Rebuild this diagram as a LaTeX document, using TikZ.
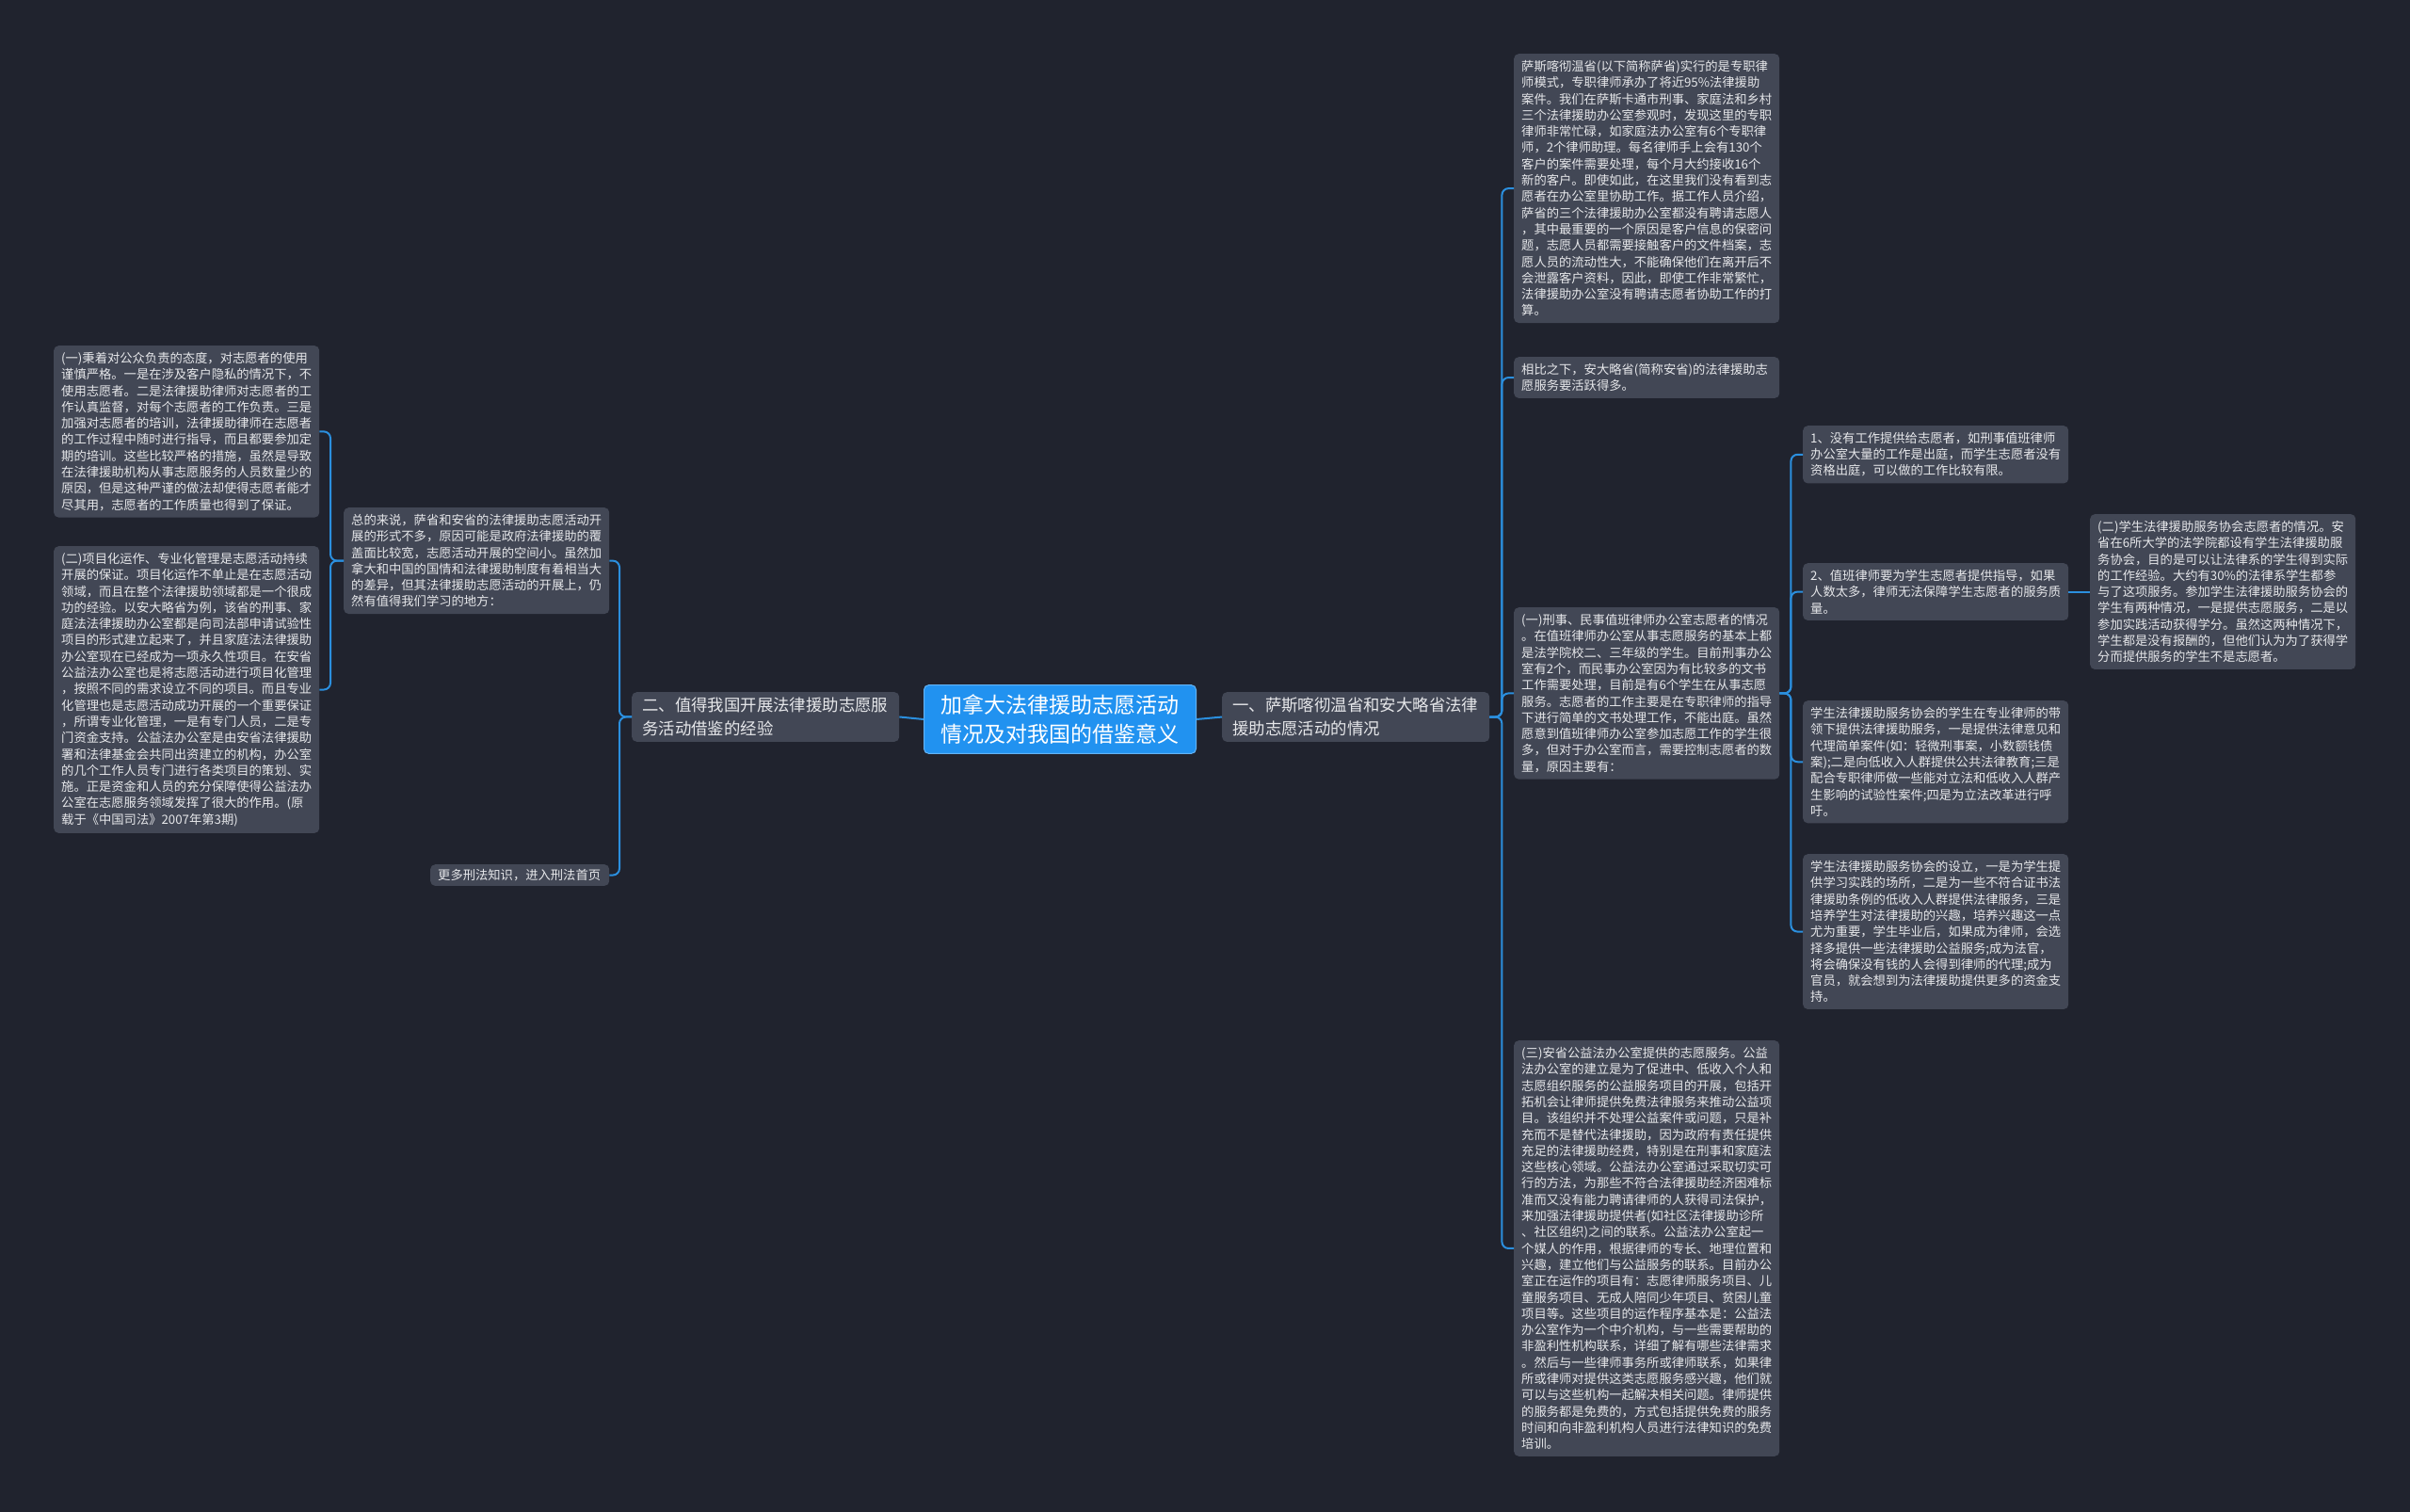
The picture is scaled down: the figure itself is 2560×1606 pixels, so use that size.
\documentclass[tikz,border=0pt]{standalone}
\usepackage{fontspec}
\setmainfont{Noto Sans CJK SC}
\usepackage{xcolor}
\definecolor{bgc}{HTML}{20232E}
\definecolor{boxc}{HTML}{424755}
\definecolor{linec}{HTML}{2B8FDE}
\definecolor{rootc}{HTML}{2192F0}
\definecolor{txtc}{HTML}{E6E7EA}

\begin{document}
\begin{tikzpicture}[x=1pt,y=-1pt]
    \tikzstyle{leafbox} = [fill=boxc,rounded corners=5pt,text=txtc,anchor=north west,align=left,
      text width=266pt,inner xsep=8pt,inner ysep=7pt,font=\fontsize{13.3}{17.3}\selectfont]
    \tikzstyle{topicbox} = [leafbox,text width=262pt,inner xsep=11pt,inner ysep=6pt,
      font=\fontsize{17.4}{24.5}\selectfont]
    \tikzstyle{rootbox} = [fill=rootc,draw=rootc!70!white,line width=1pt,rounded corners=5pt,
      text=white,align=left,inner xsep=18pt,inner ysep=10pt,font=\fontsize{23}{31}\selectfont]
    \tikzstyle{conn} = [draw=linec,line width=2pt,rounded corners=7pt]
    \fill[bgc] (0,0) rectangle (2560,1606);
    %%
    \node [rootbox] (root) at (1126,764) {加拿大法律援助志愿活动\\情况及对我国的借鉴意义};
    \node [topicbox] (r) at (1298,735) {一、萨斯喀彻温省和安大略省法律\\援助志愿活动的情况};
    \node [topicbox] (l) at (671,735) {二、值得我国开展法律援助志愿服\\务活动借鉴的经验};
    %%
    \node [leafbox] (ra) at (1608,57) {萨斯喀彻温省(以下简称萨省)实行的是专职律\\
师模式，专职律师承办了将近95\%法律援助\\
案件。我们在萨斯卡通市刑事、家庭法和乡村\\
三个法律援助办公室参观时，发现这里的专职\\
律师非常忙碌，如家庭法办公室有6个专职律\\
师，2个律师助理。每名律师手上会有130个\\
客户的案件需要处理，每个月大约接收16个\\
新的客户。即使如此，在这里我们没有看到志\\
愿者在办公室里协助工作。据工作人员介绍，\\
萨省的三个法律援助办公室都没有聘请志愿人\\
，其中最重要的一个原因是客户信息的保密问\\
题，志愿人员都需要接触客户的文件档案，志\\
愿人员的流动性大，不能确保他们在离开后不\\
会泄露客户资料，因此，即使工作非常繁忙，\\
法律援助办公室没有聘请志愿者协助工作的打\\
算。};
    \node [leafbox] (rb) at (1608,379) {相比之下，安大略省(简称安省)的法律援助志\\
愿服务要活跃得多。};
    \node [leafbox] (rc) at (1608,645) {(一)刑事、民事值班律师办公室志愿者的情况\\
。在值班律师办公室从事志愿服务的基本上都\\
是法学院校二、三年级的学生。目前刑事办公\\
室有2个，而民事办公室因为有比较多的文书\\
工作需要处理，目前是有6个学生在从事志愿\\
服务。志愿者的工作主要是在专职律师的指导\\
下进行简单的文书处理工作，不能出庭。虽然\\
愿意到值班律师办公室参加志愿工作的学生很\\
多，但对于办公室而言，需要控制志愿者的数\\
量，原因主要有：};
    \node [leafbox] (rd) at (1608,1105) {(三)安省公益法办公室提供的志愿服务。公益\\
法办公室的建立是为了促进中、低收入个人和\\
志愿组织服务的公益服务项目的开展，包括开\\
拓机会让律师提供免费法律服务来推动公益项\\
目。该组织并不处理公益案件或问题，只是补\\
充而不是替代法律援助，因为政府有责任提供\\
充足的法律援助经费，特别是在刑事和家庭法\\
这些核心领域。公益法办公室通过采取切实可\\
行的方法，为那些不符合法律援助经济困难标\\
准而又没有能力聘请律师的人获得司法保护，\\
来加强法律援助提供者(如社区法律援助诊所\\
、社区组织)之间的联系。公益法办公室起一\\
个媒人的作用，根据律师的专长、地理位置和\\
兴趣，建立他们与公益服务的联系。目前办公\\
室正在运作的项目有：志愿律师服务项目、儿\\
童服务项目、无成人陪同少年项目、贫困儿童\\
项目等。这些项目的运作程序基本是：公益法\\
办公室作为一个中介机构，与一些需要帮助的\\
非盈利性机构联系，详细了解有哪些法律需求\\
。然后与一些律师事务所或律师联系，如果律\\
所或律师对提供这类志愿服务感兴趣，他们就\\
可以与这些机构一起解决相关问题。律师提供\\
的服务都是免费的，方式包括提供免费的服务\\
时间和向非盈利机构人员进行法律知识的免费\\
培训。};
    %%
    \node [leafbox] (c1) at (1915,452) {1、没有工作提供给志愿者，如刑事值班律师\\
办公室大量的工作是出庭，而学生志愿者没有\\
资格出庭，可以做的工作比较有限。};
    \node [leafbox] (c2) at (1915,598) {2、值班律师要为学生志愿者提供指导，如果\\
人数太多，律师无法保障学生志愿者的服务质\\
量。};
    \node [leafbox] (c3) at (1915,744) {学生法律援助服务协会的学生在专业律师的带\\
领下提供法律援助服务，一是提供法律意见和\\
代理简单案件(如：轻微刑事案，小数额钱债\\
案);二是向低收入人群提供公共法律教育;三是\\
配合专职律师做一些能对立法和低收入人群产\\
生影响的试验性案件;四是为立法改革进行呼\\
吁。};
    \node [leafbox] (c4) at (1915,907) {学生法律援助服务协会的设立，一是为学生提\\
供学习实践的场所，二是为一些不符合证书法\\
律援助条例的低收入人群提供法律服务，三是\\
培养学生对法律援助的兴趣，培养兴趣这一点\\
尤为重要，学生毕业后，如果成为律师，会选\\
择多提供一些法律援助公益服务;成为法官，\\
将会确保没有钱的人会得到律师的代理;成为\\
官员，就会想到为法律援助提供更多的资金支\\
持。};
    \coordinate (ecol) at (2220,0);
    \node [leafbox,anchor=west] (e) at (ecol |- c2.west) {(二)学生法律援助服务协会志愿者的情况。安\\
省在6所大学的法学院都设有学生法律援助服\\
务协会，目的是可以让法律系的学生得到实际\\
的工作经验。大约有30\%的法律系学生都参\\
与了这项服务。参加学生法律援助服务协会的\\
学生有两种情况，一是提供志愿服务，二是以\\
参加实践活动获得学分。虽然这两种情况下，\\
学生都是没有报酬的，但他们认为为了获得学\\
分而提供服务的学生不是志愿者。};
    %%
    \node [leafbox] (la) at (365,539) {总的来说，萨省和安省的法律援助志愿活动开\\
展的形式不多，原因可能是政府法律援助的覆\\
盖面比较宽，志愿活动开展的空间小。虽然加\\
拿大和中国的国情和法律援助制度有着相当大\\
的差异，但其法律援助志愿活动的开展上，仍\\
然有值得我们学习的地方：};
    \node [leafbox,text width=174pt,inner ysep=5pt] (lb) at (457,918) {更多刑法知识，进入刑法首页};
    \node [leafbox] (h) at (57,367) {(一)秉着对公众负责的态度，对志愿者的使用\\
谨慎严格。一是在涉及客户隐私的情况下，不\\
使用志愿者。二是法律援助律师对志愿者的工\\
作认真监督，对每个志愿者的工作负责。三是\\
加强对志愿者的培训，法律援助律师在志愿者\\
的工作过程中随时进行指导，而且都要参加定\\
期的培训。这些比较严格的措施，虽然是导致\\
在法律援助机构从事志愿服务的人员数量少的\\
原因，但是这种严谨的做法却使得志愿者能才\\
尽其用，志愿者的工作质量也得到了保证。};
    \node [leafbox] (i) at (57,580) {(二)项目化运作、专业化管理是志愿活动持续\\
开展的保证。项目化运作不单止是在志愿活动\\
领域，而且在整个法律援助领域都是一个很成\\
功的经验。以安大略省为例，该省的刑事、家\\
庭法法律援助办公室都是向司法部申请试验性\\
项目的形式建立起来了，并且家庭法法律援助\\
办公室现在已经成为一项永久性项目。在安省\\
公益法办公室也是将志愿活动进行项目化管理\\
，按照不同的需求设立不同的项目。而且专业\\
化管理也是志愿活动成功开展的一个重要保证\\
，所谓专业化管理，一是有专门人员，二是专\\
门资金支持。公益法办公室是由安省法律援助\\
署和法律基金会共同出资建立的机构，办公室\\
的几个工作人员专门进行各类项目的策划、实\\
施。正是资金和人员的充分保障使得公益法办\\
公室在志愿服务领域发挥了很大的作用。(原\\
载于《中国司法》2007年第3期)};
    %%
    \path [conn] (root.east) -- (r.west);
    \path [conn] (root.west) -- (l.east);
    \path [conn] (r.east) -- ++(13,0) |- (ra.west);
    \path [conn] (r.east) -- ++(13,0) |- (rb.west);
    \path [conn] (r.east) -- ++(13,0) |- (rc.west);
    \path [conn] (r.east) -- ++(13,0) |- (rd.west);
    \path [conn] (rc.east) -- ++(12,0) |- (c1.west);
    \path [conn] (rc.east) -- ++(12,0) |- (c2.west);
    \path [conn] (rc.east) -- ++(12,0) |- (c3.west);
    \path [conn] (rc.east) -- ++(12,0) |- (c4.west);
    \path [conn] (c2.east) -- (e.west);
    \path [conn] (l.west) -- ++(-13,0) |- (la.east);
    \path [conn] (l.west) -- ++(-13,0) |- (lb.east);
    \path [conn] (la.west) -- ++(-14,0) |- (h.east);
    \path [conn] (la.west) -- ++(-14,0) |- (i.east);
\end{tikzpicture}
\end{document}
